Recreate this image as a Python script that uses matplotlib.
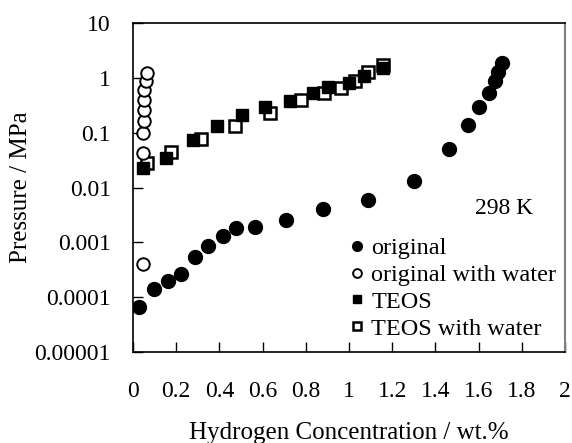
import matplotlib
matplotlib.use("Agg")
import matplotlib.pyplot as plt

# original (filled circles)
orig_x = [0.03, 0.095, 0.16, 0.22, 0.285, 0.345, 0.415, 0.477, 0.567, 0.71,
          0.88, 1.09, 1.30, 1.464, 1.552, 1.604, 1.65, 1.677, 1.692, 1.71]
orig_p = [6.6e-5, 1.4e-4, 2.0e-4, 2.6e-4, 5.4e-4, 8.6e-4, 1.3e-3, 1.8e-3, 1.9e-3, 2.6e-3,
          4.0e-3, 5.9e-3, 0.013, 0.051, 0.137, 0.30, 0.53, 0.87, 1.3, 1.85]

# original with water (open circles)
origw_x = [0.045, 0.045, 0.045, 0.05, 0.05, 0.053, 0.053, 0.06, 0.065]
origw_p = [4.0e-4, 0.042, 0.10, 0.16, 0.26, 0.40, 0.60, 0.88, 1.2]

# TEOS (filled squares)
teos_x = [0.045, 0.151, 0.276, 0.39, 0.505, 0.61, 0.727, 0.833, 0.903, 1.0, 1.07, 1.156]
teos_p = [0.023, 0.034, 0.073, 0.13, 0.21, 0.30, 0.38, 0.52, 0.67, 0.80, 1.1, 1.5]

# TEOS with water (open squares)
teosw_x = [0.063, 0.176, 0.317, 0.47, 0.636, 0.78, 0.886, 0.964, 1.03, 1.09, 1.156]
teosw_p = [0.028, 0.044, 0.077, 0.13, 0.23, 0.39, 0.53, 0.66, 0.88, 1.3, 1.75]

x_ticks = [0, 0.2, 0.4, 0.6, 0.8, 1, 1.2, 1.4, 1.6, 1.8, 2]
x_labels = ["0", "0.2", "0.4", "0.6", "0.8", "1", "1.2", "1.4", "1.6", "1.8", "2"]
y_ticks = [1e-5, 1e-4, 1e-3, 1e-2, 1e-1, 1, 10]
y_labels = ["0.00001", "0.0001", "0.001", "0.01", "0.1", "1", "10"]

plt.rcParams['font.family'] = ['Liberation Serif', 'DejaVu Serif']

fig = plt.figure(figsize=(5.72, 4.43), dpi=100)
ax = fig.add_axes([133 / 572, 1 - 352 / 443, 432 / 572, 329 / 443])

ax.plot(teosw_x, teosw_p, 's', mfc='white', mec='black', mew=1.8, ms=8.5,
        label="TEOS with water", zorder=3)
ax.plot(teos_x, teos_p, 's', color='black', ms=8.5, label="TEOS", zorder=4)
ax.plot(origw_x, origw_p, 'o', mfc='white', mec='black', mew=1.4, ms=9,
        label="original with water", zorder=3)
ax.plot(orig_x, orig_p, 'o', color='black', ms=10, label="original", zorder=4)

ax.set_yscale('log')
ax.set_xlim(0, 2)
ax.set_ylim(1e-5, 10)
ax.set_xticks(x_ticks)
ax.set_xticklabels(x_labels)
ax.set_yticks(y_ticks)
ax.set_yticklabels(y_labels)
ax.minorticks_off()
ax.tick_params(axis='both', direction='in', length=7, width=1, labelsize=17)
ax.tick_params(axis='x', pad=21, bottom=True, top=False)
ax.tick_params(axis='y', pad=16, left=True, right=False)

for s in ['left', 'bottom', 'top']:
    ax.spines[s].set_color('black')
    ax.spines[s].set_linewidth(1.2)
ax.spines['right'].set_color('#808080')
ax.spines['right'].set_linewidth(1.5)

ax.set_xlabel("Hydrogen Concentration / wt.%", fontsize=18, labelpad=14)
ax.set_ylabel("Pressure / MPa", fontsize=18, labelpad=2)

ax.text(0.926, 0.435, "298 K", transform=ax.transAxes, ha='right', va='center', fontsize=17)

handles, labels = ax.get_legend_handles_labels()
order = [3, 2, 1, 0]
leg = ax.legend([handles[i] for i in order], [labels[i] for i in order],
                loc='lower right', frameon=False, fontsize=17.5, markerscale=0.7,
                handlelength=0.6, handletextpad=0.3, labelspacing=0.2,
                borderaxespad=0.1, bbox_to_anchor=(1.008, 0.0))

fig.savefig("out.png", dpi=100)
